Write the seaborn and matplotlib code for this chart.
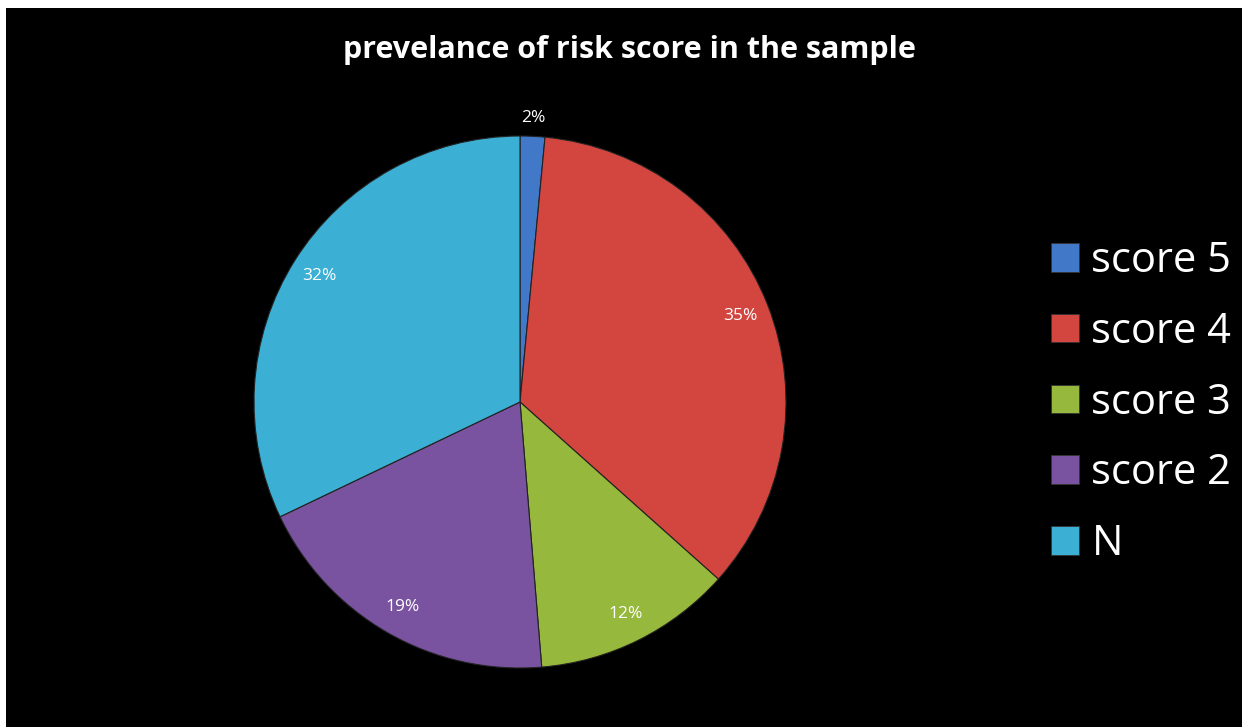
import matplotlib
matplotlib.use("Agg")
import numpy as np
import matplotlib.pyplot as plt
import matplotlib.patches as mpatches
import seaborn as sns

# data (share of sample, %)
categories = ["score 5", "score 4", "score 3", "score 2", "N"]
shares = [1.5, 35.1, 12.1, 19.2, 32.1]
pct_labels = ["2%", "35%", "12%", "19%", "32%"]
colors = ["#4178C8", "#D3453F", "#96B83C", "#7952A0", "#3BB0D4"]

sns.set_style("dark")
plt.rcParams["font.family"] = ["Open Sans", "DejaVu Sans"]

W, H = 1242, 727
fig = plt.figure(figsize=(W / 100, H / 100), dpi=100, facecolor="white")

# black chart area (thin white margin at left and top)
fig.patches.append(mpatches.Rectangle((6 / W, 0), 1 - 6 / W, 1 - 8 / H,
                                      transform=fig.transFigure,
                                      facecolor="black", edgecolor="none", zorder=-5))

# pie axes: centre (520, 402) px, radius 266 px
cx, cy, r = 520, 402, 266
ax = fig.add_axes([(cx - r) / W, 1 - (cy + r) / H, 2 * r / W, 2 * r / H])
ax.set_facecolor("none")
ax.patch.set_alpha(0)

palette = sns.color_palette(colors)
wedges, texts = ax.pie(
    shares, colors=palette, startangle=90, counterclock=False, radius=1,
    wedgeprops=dict(edgecolor="#222222", linewidth=0.8),
)
ax.set_xlim(-1, 1)
ax.set_ylim(-1, 1)
ax.set_aspect("equal")

# percentage labels inside the slices, the tiny one just outside
for i, (w, lab) in enumerate(zip(wedges, pct_labels)):
    mid = np.deg2rad((w.theta1 + w.theta2) / 2)
    d = 1.07 if i == 0 else 0.89
    ax.text(d * np.cos(mid), d * np.sin(mid), lab, ha="center", va="center",
            color="white", fontsize=12.5)

fig.text(629 / W, 1 - 50 / H, "prevelance of risk score in the sample",
         ha="center", va="center", color="white", fontsize=22, fontweight="bold")

handles = [mpatches.Patch(facecolor=c, edgecolor="#333333", linewidth=0.6) for c in palette]
leg = fig.legend(handles, categories, loc="upper left",
                 bbox_to_anchor=(1051 / W, 1 - 240 / H),
                 frameon=False, fontsize=30, labelcolor="white",
                 handlelength=0.67, handleheight=0.67, handletextpad=0.3,
                 labelspacing=0.69, borderpad=0, borderaxespad=0)

fig.savefig("out.png", dpi=100, facecolor="white")
